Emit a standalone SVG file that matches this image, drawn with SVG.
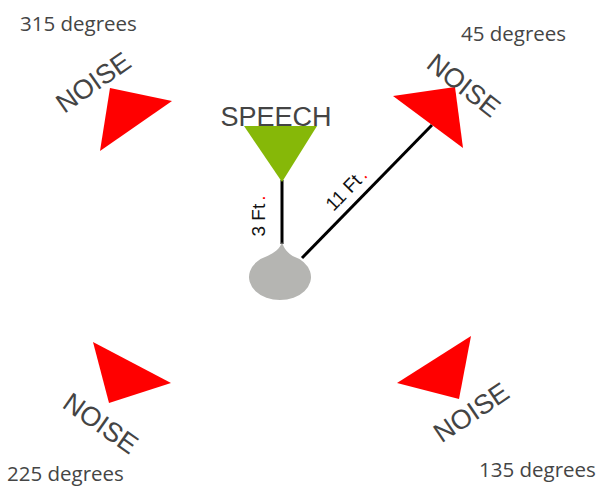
<svg xmlns="http://www.w3.org/2000/svg" width="597" height="489" viewBox="0 0 597 489">
<style>
.deg{font-family:"Open Sans","Noto Sans",sans-serif;font-size:20.5px;fill:#454545}
.noise{font-family:"Liberation Sans",Arial,sans-serif;font-size:27px;fill:#444;text-anchor:middle}
.red{fill:#ff0000}
.lbl{font-family:"Liberation Sans",Arial,sans-serif;font-size:19px;fill:#111;text-anchor:middle}
.conn{stroke:#000;stroke-width:3;fill:none}
</style>
<rect width="597" height="489" fill="#fff"/>
<g id="label-315"><text class="deg" x="20" y="31">315 degrees</text></g>
<g id="label-45"><text class="deg" x="461" y="41">45 degrees</text></g>
<g id="label-225"><text class="deg" x="7" y="481">225 degrees</text></g>
<g id="label-135"><text class="deg" x="479" y="477">135 degrees</text></g>
<g id="connectors">
<line class="conn" x1="282" y1="180" x2="282" y2="244"/>
<line class="conn" x1="302" y1="258" x2="432" y2="125"/>
<text class="lbl" transform="translate(265,216) rotate(-90)">3 Ft<tspan class="red" dx="3">.</tspan></text>
<text class="lbl" transform="translate(351,194) rotate(-45.7)">11 Ft<tspan class="red" dx="3">.</tspan></text>
</g>
<g id="noise-315">
<polygon class="red" points="110,88 172,101 100,151"/>
<text class="noise" transform="translate(93,82) rotate(-35)" y="9.7">NOISE</text>
</g>
<g id="noise-45">
<polygon class="red" points="393,96 455,87 463,148"/>
<text class="noise" transform="translate(464,85) rotate(38)" y="9.7">NOISE</text>
</g>
<g id="noise-225">
<polygon class="red" points="93,342 171,383 109,403"/>
<text class="noise" transform="translate(101,423) rotate(35)" y="9.7">NOISE</text>
</g>
<g id="noise-135">
<polygon class="red" points="471,336 397,383 459,399"/>
<text class="noise" transform="translate(471,412) rotate(-34)" y="9.7">NOISE</text>
</g>
<g id="speech">
<polygon points="244,126 317,126 282,182" fill="#86b808"/>
<text class="noise" x="276" y="126" style="font-size:27px">SPEECH</text>
</g>
<g id="listener">
<path d="M282,242 C284,249 288,253 292.6,256 A31 23 0 1 1 267.4,256 C274,253 280,249 282,242 Z" fill="#b5b5b2"/>
</g>
</svg>
